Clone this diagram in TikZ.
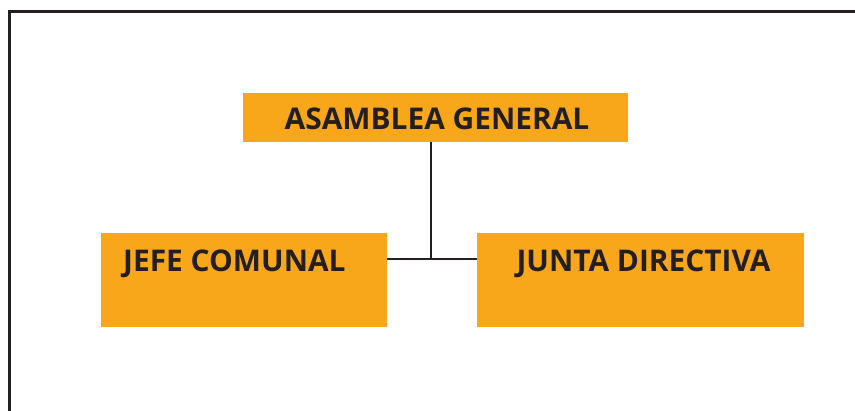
\documentclass[tikz,border=0pt]{standalone}
\usepackage{fontspec}
\setmainfont{Open Sans}
\definecolor{boxorange}{RGB}{248,167,27}
\definecolor{inkdark}{RGB}{35,31,32}
\begin{document}
\begin{tikzpicture}[x=1bp,y=-1bp,
  orgbox/.style={fill=boxorange,draw=none,inner sep=0pt,anchor=north west},
  orgtext/.style={text=inkdark,font=\bfseries\fontsize{30}{31}\selectfont,inner sep=0pt},
  link/.style={draw=inkdark,line width=2.5bp}]
\useasboundingbox (0,0) rectangle (855,410);
\draw[inkdark,line width=3bp] (856,11) -- (9.75,11) -- (9.75,412);
\node[orgbox,minimum width=385bp,minimum height=49bp] (ag) at (243,93) {};
\node[orgbox,minimum width=286bp,minimum height=94bp] (jefe) at (101,233) {};
\node[orgbox,minimum width=327bp,minimum height=94bp] (junta) at (477,233) {};
\node[orgtext,anchor=base] (agt) at (437,129.5) {ASAMBLEA GENERAL};
\node[orgtext,anchor=base west] (jefet) at (123,271.5) {JEFE COMUNAL};
\node[orgtext,anchor=base] (juntat) at (643.5,271.5) {JUNTA DIRECTIVA};
\coordinate (j) at (431,259);
\draw[link] (ag.south -| j) -- (j);
\draw[link] (j -| jefe.east) -- (j -| junta.west);
\end{tikzpicture}
\end{document}
